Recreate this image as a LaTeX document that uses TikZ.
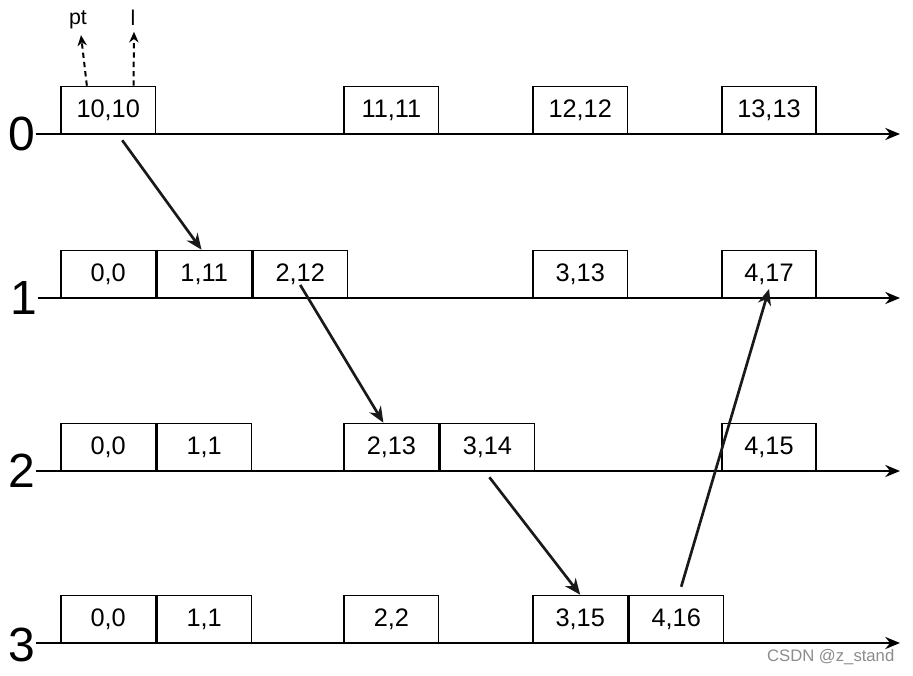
\documentclass[tikz,border=0pt]{standalone}
\usepackage{fontspec}
\setmainfont{Liberation Sans}
\usetikzlibrary{positioning,arrows.meta,calc}

\begin{document}
\begin{tikzpicture}[
  x=0.75pt, y=-0.75pt,
  >=Stealth,
  slot/.style={draw, line width=1.2pt, minimum width=70.8pt, minimum height=35.2pt, inner sep=0pt, font=\fontsize{19}{21}\selectfont},
  axis/.style={line width=2pt, -{Stealth[length=11pt,width=9pt]}},
  rowlbl/.style={font=\fontsize{36}{38}\selectfont, inner sep=0pt},
  msg/.style={line width=2pt, black!90, -{Stealth[length=12pt,width=10pt]}},
  peek/.style={line width=1.5pt, dash pattern=on 4pt off 3pt, -{Stealth[length=8pt,width=7pt]}},
  every node/.style={font=\fontsize{16}{18}\selectfont}
]
\useasboundingbox (0,0) rectangle (913,675);

% process lines
\node[rowlbl] (p0) at (22,134) {0};
\node[rowlbl] (p1) at (24,298) {1};
\node[rowlbl] (p2) at (22,471) {2};
\node[rowlbl] (p3) at (22,645) {3};
\coordinate (e0) at (900,134);
\coordinate (e1) at (900,298);
\coordinate (e2) at (900,471);
\coordinate (e3) at (900,643);
\draw[axis] (p0.east |- e0) -- (e0);
\draw[axis] (p1.east |- e1) -- (e1);
\draw[axis] (p2.east |- e2) -- (e2);
\draw[axis] (p3.east |- e3) -- (e3);

% process 0
\node[slot] (a0) at (108.2,110) {10,10};
\node[slot] (a3) at (391.4,110) {11,11};
\node[slot] (a5) at (580.2,110) {12,12};
\node[slot] (a7) at (769,110) {13,13};

% process 1
\node[slot] (b0) at (108.2,274) {0,0};
\node[slot, right=0pt of b0] (b1) {1,11};
\node[slot, right=0pt of b1] (b2) {2,12};
\node[slot] (b5) at (580.2,274) {3,13};
\node[slot] (b7) at (769,274) {4,17};

% process 2
\node[slot] (c0) at (108.2,447) {0,0};
\node[slot, right=0pt of c0] (c1) {1,1};
\node[slot] (c3) at (391.4,447) {2,13};
\node[slot, right=0pt of c3] (c4) {3,14};
\node[slot] (c7) at (769,447) {4,15};

% process 3
\node[slot] (d0) at (108.2,619) {0,0};
\node[slot, right=0pt of d0] (d1) {1,1};
\node[slot] (d3) at (391.4,619) {2,2};
\node[slot] (d5) at (580.2,619) {3,15};
\node[slot, right=0pt of d5] (d6) {4,16};

% fields of the first slot
\node (pt) at (78,20) {pt};
\node (l) at (133,18) {l};
\draw[peek] ([xshift=-16]a0.north) -- ([shift={(3,-1pt)}]pt.south);
\draw[peek] ([xshift=19]a0.north) -- ([shift={(1,-1pt)}]l.south);

% messages
\draw[msg] ([shift={(14,6)}]a0.south) -- ([xshift=-2]b1.north);
\draw[msg] ([yshift=10]b2.south) -- ([xshift=-6]c3.north);
\draw[msg] ([shift={(2,6)}]c4.south) -- (d5.north);
\draw[msg] ([shift={(5,-8)}]d6.north) -- ([yshift=7]b7.south);

\node[text=black!45, font=\fontsize{12.5}{14}\selectfont, anchor=east] (wm) at (899,657) {CSDN @z\_stand};
\end{tikzpicture}
\end{document}
